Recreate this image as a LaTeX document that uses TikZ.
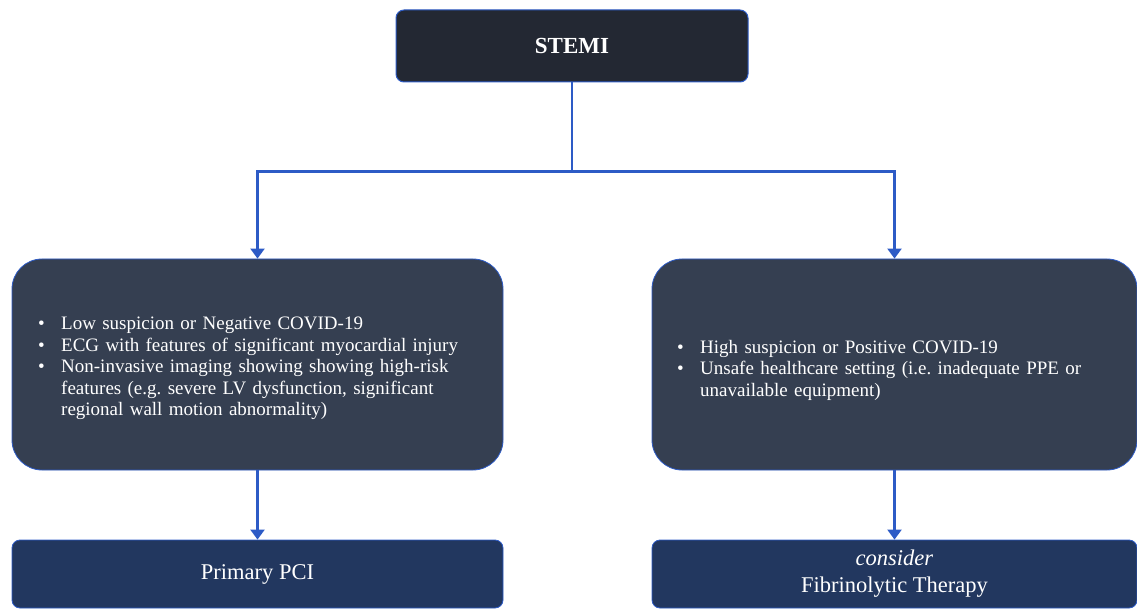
\documentclass[tikz,border=0pt]{standalone}
\usepackage{fontspec}
\setmainfont{Liberation Serif}
\usetikzlibrary{arrows.meta}
\definecolor{topfill}{HTML}{232833}
\definecolor{midfill}{HTML}{353F51}
\definecolor{botfill}{HTML}{22375F}
\definecolor{linkblue}{HTML}{2D5BC6}
\frenchspacing
\newcommand{\bitem}[1]{\par\hangindent=23pt\hangafter=1\noindent\makebox[23pt][l]{\textbullet}#1}
\begin{document}
\begin{tikzpicture}[x=1pt,y=-1pt,
  topbox/.style={draw=linkblue, line width=1pt, fill=topfill, rounded corners=8pt, text=white, font=\fontsize{23}{27}\selectfont\bfseries},
  midbox/.style={draw=linkblue, line width=0.8pt, fill=midfill, rounded corners=30pt, minimum height=211pt},
  botbox/.style={draw=linkblue, line width=0.8pt, fill=botfill, rounded corners=8pt, minimum height=68pt, text=white, align=center, font=\fontsize{22.5}{27}\selectfont},
  bultext/.style={text=white, inner sep=0pt, font=\fontsize{19}{21.5}\selectfont},
  conn/.style={draw=linkblue, line width=2.2pt},
  arr/.style={conn, -{Triangle[width=14pt,length=10pt]}}]
\useasboundingbox (0,0) rectangle (1137,609);
\node[topbox, minimum width=352pt, minimum height=72pt] (stemi) at (572,46) {STEMI};
\node[midbox, minimum width=491pt] (left) at (257.5,364.5) {};
\node[midbox, minimum width=485pt] (right) at (894.5,364.5) {};
\node[botbox, minimum width=491pt] (pci) at (257.5,574) {Primary PCI};
\node[botbox, minimum width=485pt] (fib) at (894.5,574) {\textit{consider}\\Fibrinolytic Therapy};
\node[bultext, anchor=west, text width=460pt] (lefttext) at (38,364) {\raggedright
\bitem{Low suspicion or Negative COVID-19}
\bitem{ECG with features of significant myocardial injury}
\bitem{Non-invasive imaging showing showing high-risk\newline features (e.g. severe LV dysfunction, significant\newline regional wall motion abnormality)}\par};
\node[bultext, anchor=west, text width=440pt] (righttext) at (677,366) {\raggedright
\bitem{High suspicion or Positive COVID-19}
\bitem{Unsafe healthcare setting (i.e. inadequate PPE or\newline unavailable equipment)}\par};
\draw[conn] (stemi.south) -- ++(0,89) coordinate (split);
\draw[arr] (split) -| (left.north);
\draw[arr] (split) -| (right.north);
\draw[arr] (left.south) -- (pci.north);
\draw[arr] (right.south) -- (fib.north);
\end{tikzpicture}
\end{document}
